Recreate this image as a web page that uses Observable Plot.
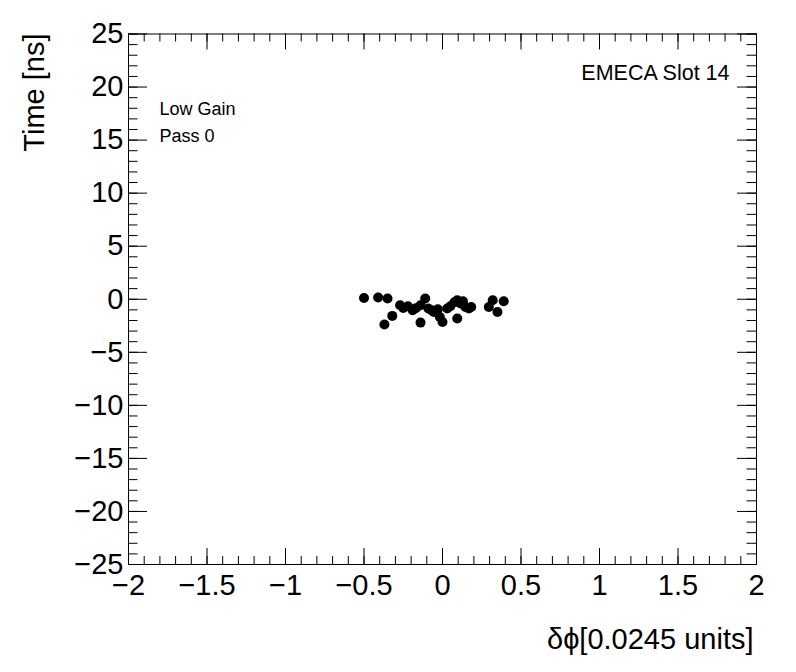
<!DOCTYPE html>
<html><head><meta charset="utf-8">
<script src="https://cdn.jsdelivr.net/npm/d3@7"></script>
<script src="https://cdn.jsdelivr.net/npm/@observablehq/plot@0.6"></script>
<style>body{margin:0;background:#fff} svg{display:block}</style>
</head><body><div id="chart"></div>
<script>
const dphi = [-0.50,-0.41,-0.35,-0.37,-0.32,-0.27,-0.25,-0.22,-0.19,-0.17,-0.14,-0.11,-0.14,-0.09,-0.07,-0.055,-0.03,-0.017,0.0,0.03,0.05,0.076,0.094,0.115,0.13,0.146,0.094,0.168,0.183,0.295,0.32,0.35,0.39];
const time = [0.12,0.16,0.07,-2.38,-1.57,-0.57,-0.82,-0.66,-1.04,-0.85,-0.57,0.07,-2.2,-0.88,-1.04,-1.2,-0.94,-1.67,-2.14,-0.88,-0.66,-0.28,-0.09,-0.4,-0.19,-0.73,-1.82,-0.88,-0.73,-0.73,-0.09,-1.2,-0.19];
const xMajor = [-2,-1.5,-1,-0.5,0,0.5,1,1.5,2];
const yMajor = [-25,-20,-15,-10,-5,0,5,10,15,20,25];
const xMinor = d3.range(-20, 21).map(i => i / 10);
const yMinor = d3.range(-25, 26);
const xTitle = "\u03B4\u03D5[0.0245 units]";
const yTitle = "Time [ns]";
const labelRight = "EMECA Slot 14";
const labelsLeft = ["Low Gain", "Pass 0"];

const points = dphi.map((x, i) => ({x, y: time[i]}));
const W = 796, H = 672, mL = 128, mR = 40, mT = 33.5, mB = 108;
const pw = W - mL - mR, ph = H - mT - mB;
const fmt = d => d < 0 ? "\u2212" + (-d) : String(d);

const chart = Plot.plot({
  width: W, height: H,
  marginLeft: mL, marginRight: mR, marginTop: mT, marginBottom: mB,
  style: {fontFamily: "'Liberation Sans', Arial, Helvetica, sans-serif", background: "#fff", color: "#000"},
  x: {domain: [-2, 2]},
  y: {domain: [-25, 25]},
  marks: [
    Plot.tickX(xMinor, {x: d => d, insetTop: ph - 8, stroke: "#000"}),
    Plot.tickX(xMinor, {x: d => d, insetBottom: ph - 8, stroke: "#000"}),
    Plot.tickX(xMajor, {x: d => d, insetTop: ph - 16, stroke: "#000"}),
    Plot.tickX(xMajor, {x: d => d, insetBottom: ph - 16, stroke: "#000"}),
    Plot.tickY(yMinor, {y: d => d, insetRight: pw - 9.5, stroke: "#000"}),
    Plot.tickY(yMinor, {y: d => d, insetLeft: pw - 9.5, stroke: "#000"}),
    Plot.tickY(yMajor, {y: d => d, insetRight: pw - 19, stroke: "#000"}),
    Plot.tickY(yMajor, {y: d => d, insetLeft: pw - 19, stroke: "#000"}),
    Plot.frame({stroke: "#000"}),
    Plot.axisX({ticks: xMajor, tickSize: 0, tickPadding: 9.5, tickFormat: fmt, fontSize: 29, label: null}),
    Plot.axisY({ticks: yMajor, tickSize: 0, tickPadding: 5, tickFormat: fmt, fontSize: 29, label: null}),
    Plot.dot(points, {x: "x", y: "y", r: 5, fill: "#000", stroke: null}),
    Plot.text([yTitle], {frameAnchor: "top-left", text: d => d, rotate: -90, textAnchor: "end", lineAnchor: "bottom", dx: -84.5, dy: -0.5, fontSize: 29, fill: "#000"}),
    Plot.text([xTitle], {frameAnchor: "bottom-right", text: d => d, textAnchor: "end", lineAnchor: "bottom", dx: -3, dy: 84, fontSize: 29, fill: "#000"}),
    Plot.text([labelRight], {frameAnchor: "top-right", text: d => d, textAnchor: "end", lineAnchor: "bottom", dx: -27, dy: 45.5, fontSize: 21.5, fill: "#000"}),
    Plot.text([labelsLeft[0]], {frameAnchor: "top-left", text: d => d, textAnchor: "start", lineAnchor: "bottom", dx: 31, dy: 80.5, fontSize: 18, fill: "#000"}),
    Plot.text([labelsLeft[1]], {frameAnchor: "top-left", text: d => d, textAnchor: "start", lineAnchor: "bottom", dx: 31, dy: 107.5, fontSize: 18, fill: "#000"})
  ]
});
document.getElementById("chart").appendChild(chart);
</script>
</body></html>
